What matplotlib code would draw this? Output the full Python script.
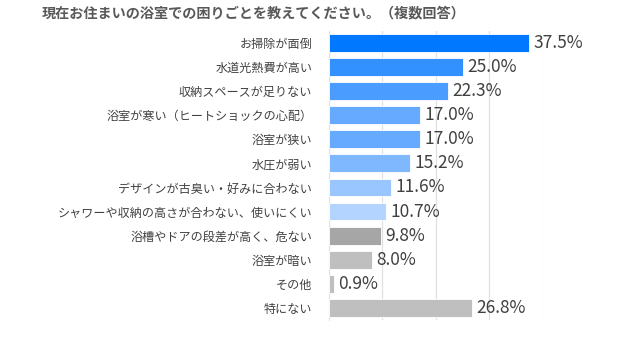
import matplotlib
matplotlib.use("Agg")
import matplotlib.pyplot as plt

plt.rcParams['font.family'] = ['Noto Sans CJK JP', 'DejaVu Sans']

# ── Data ──────────────────────────────────────────────────────────────────────
TITLE = "現在お住まいの浴室での困りごとを教えてください。（複数回答）"

categories = [
    "お掃除が面倒",
    "水道光熱費が高い",
    "収納スペースが足りない",
    "浴室が寒い（ヒートショックの心配）",
    "浴室が狭い",
    "水圧が弱い",
    "デザインが古臭い・好みに合わない",
    "シャワーや収納の高さが合わない、使いにくい",
    "浴槽やドアの段差が高く、危ない",
    "浴室が暗い",
    "その他",
    "特にない",
]
values = [37.5, 25.0, 22.3, 17.0, 17.0, 15.2, 11.6, 10.7, 9.8, 8.0, 0.9, 26.8]
colors = [
    "#0078ff", "#3390ff", "#4a9cff", "#66aaff", "#66aaff", "#80b8ff",
    "#99c6ff", "#b3d4ff", "#a6a6a6", "#bfbfbf", "#bfbfbf", "#bfbfbf",
]
xticks = [0, 10, 20, 30, 40]

# ── Plot ──────────────────────────────────────────────────────────────────────
fig = plt.figure(figsize=(6.4, 3.4), dpi=100)
ax = fig.add_axes([0.514, 0.059, 0.334, 0.85])

y = list(range(len(categories)))
ax.barh(y, values, height=0.74, color=colors, edgecolor="white",
        linewidth=0.6, zorder=3)

for yi, v in zip(y, values):
    ax.text(v + 0.8, yi, f"{v:.1f}%", va="center", ha="left",
            fontsize=12.5, color="#404040")

ax.set_xlim(0, 40)
ax.set_ylim(len(categories) - 0.5, -0.5)
ax.set_xticks(xticks)
ax.set_xticklabels([])
ax.set_yticks(y)
ax.set_yticklabels(categories, fontsize=8.7, color="#404040")
ax.tick_params(axis="y", length=0, pad=12)
ax.tick_params(axis="x", length=0)
ax.grid(axis="x", color="#e0e0e0", linewidth=0.9, zorder=0)
for side in ["top", "right", "bottom"]:
    ax.spines[side].set_visible(False)
ax.spines["left"].set_color("#e0e0e0")

fig.text(0.397, 0.96, TITLE, ha="center", va="center", fontsize=10.2,
         fontweight="bold", color="#595959")

plt.savefig("out.png", dpi=100)
